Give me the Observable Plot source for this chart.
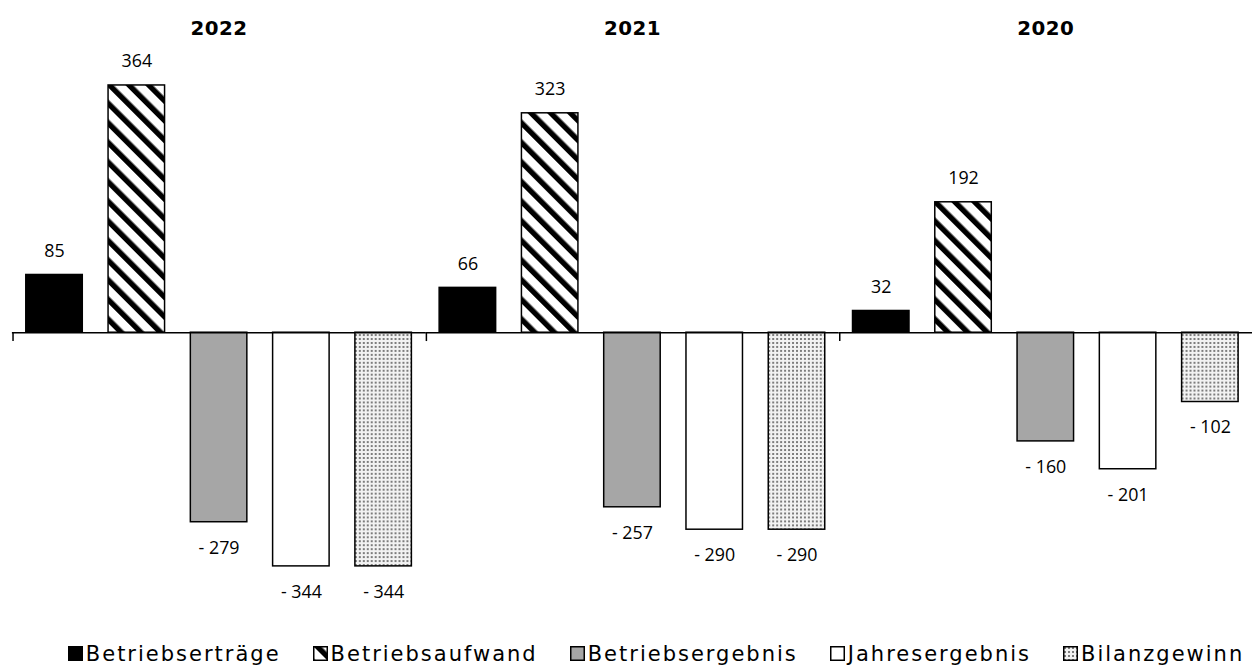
<!DOCTYPE html>
<html>
<head>
<meta charset="utf-8">
<script src="https://cdn.jsdelivr.net/npm/d3@7"></script>
<script src="https://cdn.jsdelivr.net/npm/@observablehq/plot@0.6"></script>
<style>
  html, body { margin: 0; padding: 0; background: #fff; overflow: hidden; }
  #chart { width: 1252px; overflow: hidden; }
  #legend {
    width: 1252px; box-sizing: border-box; padding-left: 60px;
    display: flex; justify-content: center; align-items: center;
    margin-top: 22px; height: 24px; font-family: "DejaVu Sans", sans-serif; font-size: 21px;
    letter-spacing: 2px; color: #000; white-space: nowrap;
  }
  #legend .item { display: flex; align-items: center; margin: 0 16px; }
  #legend svg { margin-right: 3px; }
</style>
</head>
<body>
<svg width="0" height="0" style="position:absolute">
  <defs>
    <pattern id="hatch" patternUnits="userSpaceOnUse" width="14" height="14" patternTransform="rotate(-45)">
      <rect width="14" height="14" fill="#fff"/>
      <rect x="0" y="0" width="5.5" height="14" fill="#000"/>
    </pattern>
    <pattern id="dots" patternUnits="userSpaceOnUse" width="4" height="4">
      <rect width="4" height="4" fill="#f2f2f2"/>
      <circle cx="2" cy="2" r="1" fill="#555"/>
    </pattern>
  </defs>
</svg>
<div id="chart"></div>
<div id="legend"></div>
<script>
const years = ["2022", "2021", "2020"];
const series = ["Betriebserträge", "Betriebsaufwand", "Betriebsergebnis", "Jahresergebnis", "Bilanzgewinn"];
const betriebsertraege = [85, 66, 32];
const betriebsaufwand = [364, 323, 192];
const betriebsergebnis = [-279, -257, -160];
const jahresergebnis = [-344, -290, -201];
const bilanzgewinn = [-344, -290, -102];
const fills = ["#000000", "url(#hatch)", "#a6a6a6", "#ffffff", "url(#dots)"];

const valuesBySeries = [betriebsertraege, betriebsaufwand, betriebsergebnis, jahresergebnis, bilanzgewinn];
const table = [];
years.forEach((year, yi) => {
  series.forEach((s, si) => {
    table.push({year, series: s, value: valuesBySeries[si][yi]});
  });
});

const fmt = v => v < 0 ? "- " + Math.abs(v) : String(v);

const paddingInner = 0.316, paddingOuter = 0.16;
const facetWidth = (1263 - 11) / 3;
const step = facetWidth / (series.length - paddingInner + 2 * paddingOuter);
const firstCenter = paddingOuter * step + (1 - paddingInner) * step / 2;

const chart = Plot.plot({
  width: 1263,
  height: 625,
  marginLeft: 11,
  marginRight: 0,
  marginTop: 40,
  marginBottom: 0,
  style: {fontFamily: "'Open Sans', sans-serif", fontSize: "18px", color: "#000", background: "#fff"},
  facet: {data: table, x: "year"},
  fx: {domain: years, axis: "top", padding: 0, label: null, tickSize: 0, tickPadding: 5},
  x: {domain: series, paddingInner, paddingOuter, axis: null},
  y: {domain: [-423, 430.7], axis: null},
  color: {domain: series, range: fills},
  marks: [
    Plot.barY(table, {x: "series", y: "value", fill: "series", stroke: "#000", strokeWidth: 1.5}),
    Plot.ruleY([0], {stroke: "#000", strokeWidth: 1.5}),
    Plot.ruleX(table, {filter: d => d.series === series[0], x: "series", y1: d => 0, y2: d => -13, dx: -firstCenter, stroke: "#000", strokeWidth: 1.5}),
    Plot.text(table, {x: "series", y: "value", text: d => fmt(d.value), fill: "#000", filter: d => d.value >= 0, dy: -24}),
    Plot.text(table, {x: "series", y: "value", text: d => fmt(d.value), fill: "#000", filter: d => d.value < 0, dy: 26})
  ]
});
document.getElementById("chart").appendChild(chart);
chart.querySelectorAll("g[aria-label^='fx-axis'] text").forEach(t => {
  t.setAttribute("font-weight", "bold");
  t.style.fontWeight = "bold";
  t.style.fontSize = "20px";
  t.style.fontFamily = "'DejaVu Sans', sans-serif";
  t.style.letterSpacing = "0.5px";
});

const legend = document.getElementById("legend");
series.forEach((s, i) => {
  const item = document.createElement("div");
  item.className = "item";
  item.innerHTML = `<svg width="15" height="15"><rect x="0.75" y="0.75" width="13.5" height="13.5" fill="${fills[i]}" stroke="#000" stroke-width="1.5"/></svg><span>${s}</span>`;
  legend.appendChild(item);
});
</script>
</body>
</html>
